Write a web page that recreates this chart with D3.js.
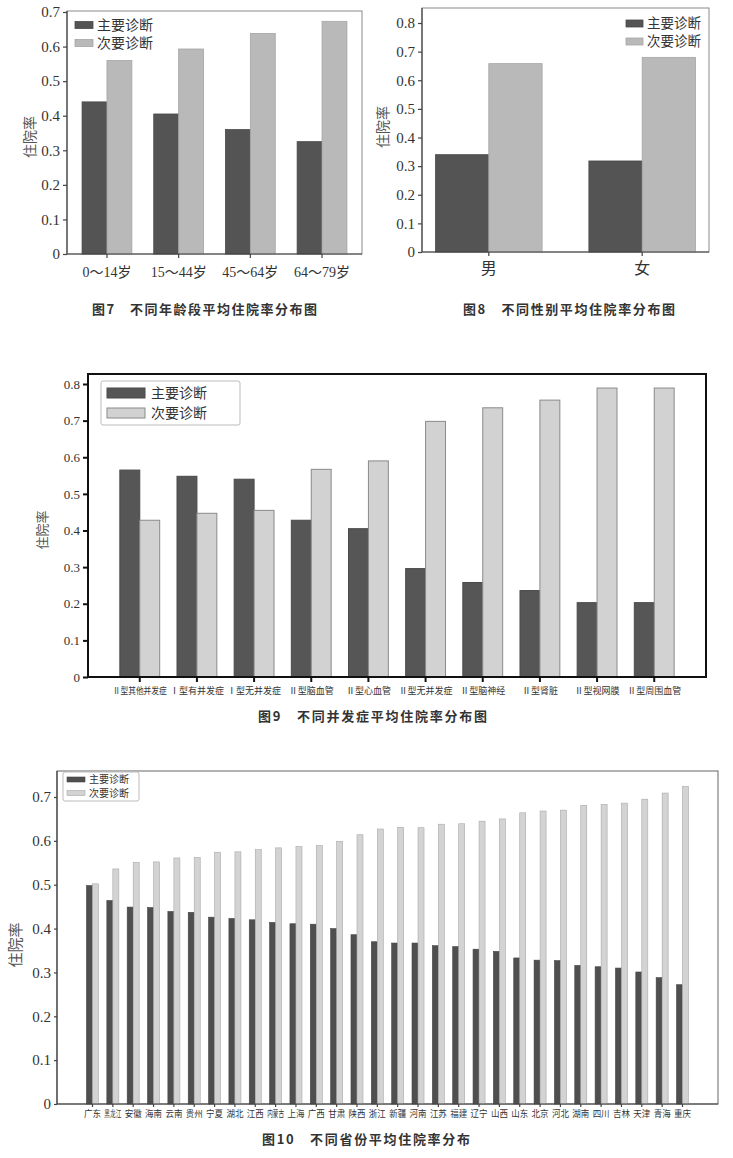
<!DOCTYPE html>
<html>
<head>
<meta charset="utf-8">
<script src="https://cdn.jsdelivr.net/npm/d3@7"></script>
<style>
body { margin: 0; background: #fff; }
svg { display: block; }
</style>
</head>
<body>
<div id="chart"></div>
<script>
var seriesNames = ["主要诊断", "次要诊断"];

// fig 7 - age groups
var ageGroups = ["0～14岁", "15～44岁", "45～64岁", "64～79岁"];
var ageMain = [0.44, 0.405, 0.36, 0.325];
var ageSecond = [0.56, 0.593, 0.638, 0.673];
var ageTicks = [0, 0.1, 0.2, 0.3, 0.4, 0.5, 0.6, 0.7];

// fig 8 - sex
var sexGroups = ["男", "女"];
var sexMain = [0.34, 0.318];
var sexSecond = [0.658, 0.68];
var sexTicks = [0, 0.1, 0.2, 0.3, 0.4, 0.5, 0.6, 0.7, 0.8];

// fig 9 - complications
var compGroups = ["Ⅱ型其他并发症", "Ⅰ型有并发症", "Ⅰ型无并发症", "Ⅱ型脑血管", "Ⅱ型心血管",
                  "Ⅱ型无并发症", "Ⅱ型脑神经", "Ⅱ型肾脏", "Ⅱ型视网膜", "Ⅱ型周围血管"];
var compMain = [0.565, 0.548, 0.54, 0.428, 0.405, 0.296, 0.258, 0.236, 0.203, 0.203];
var compSecond = [0.428, 0.447, 0.455, 0.567, 0.59, 0.698, 0.735, 0.756, 0.789, 0.789];
var compTicks = [0, 0.1, 0.2, 0.3, 0.4, 0.5, 0.6, 0.7, 0.8];

// fig 10 - provinces
var provGroups = ["广东", "黑龙江", "安徽", "海南", "云南", "贵州", "宁夏", "湖北", "江西", "内蒙古",
                  "上海", "广西", "甘肃", "陕西", "浙江", "新疆", "河南", "江苏", "福建", "辽宁",
                  "山西", "山东", "北京", "河北", "湖南", "四川", "吉林", "天津", "青海", "重庆"];
var provMain = [0.498, 0.464, 0.449, 0.448, 0.439, 0.437, 0.426, 0.423, 0.42, 0.414,
                0.411, 0.41, 0.4, 0.386, 0.37, 0.367, 0.367, 0.361, 0.359, 0.353,
                0.348, 0.333, 0.328, 0.327, 0.316, 0.313, 0.31, 0.301, 0.288, 0.272];
var provSecond = [0.502, 0.536, 0.551, 0.552, 0.561, 0.562, 0.574, 0.575, 0.58, 0.584,
                  0.587, 0.589, 0.599, 0.614, 0.627, 0.631, 0.63, 0.638, 0.639, 0.645,
                  0.65, 0.664, 0.668, 0.67, 0.681, 0.683, 0.686, 0.695, 0.709, 0.724];
var provTicks = [0, 0.1, 0.2, 0.3, 0.4, 0.5, 0.6, 0.7];

var serif = "'Liberation Serif', 'Noto Sans CJK SC', serif";
var cjk = "'Noto Sans CJK SC', sans-serif";
var fmt = function(d) { return d === 0 ? "0" : d3.format(".1f")(d); };

var svg = d3.select("#chart")
    .append("svg")
    .attr("width", 733)
    .attr("height", 1158);

function drawChart(c) {
    var g = svg.append("g");

    var x0 = d3.scaleBand()
        .domain(c.cats)
        .range([c.left, c.right])
        .paddingInner(c.padIn)
        .paddingOuter(c.padOut);
    var x1 = d3.scaleBand()
        .domain(seriesNames)
        .range([0, x0.bandwidth()]);
    var y = d3.scaleLinear()
        .domain([0, c.ticks[c.ticks.length - 1]])
        .range([c.bottom, c.tickTop]);

    var rows = c.cats.map(function(d, i) {
        return { cat: d, vals: [c.main[i], c.second[i]] };
    });

    // frame
    g.append("rect")
        .attr("x", c.left)
        .attr("y", c.top)
        .attr("width", c.right - c.left)
        .attr("height", c.bottom - c.top)
        .attr("fill", "none")
        .attr("stroke", c.frame)
        .attr("stroke-width", c.frameW);

    // bars
    g.selectAll("g.grp")
        .data(rows)
        .enter()
        .append("g")
        .attr("transform", function(d) { return "translate(" + x0(d.cat) + ",0)"; })
        .selectAll("rect")
        .data(function(d) { return d.vals.map(function(v, k) { return { s: seriesNames[k], v: v, k: k }; }); })
        .enter()
        .append("rect")
        .attr("x", function(d) { return x1(d.s); })
        .attr("y", function(d) { return y(d.v); })
        .attr("width", x1.bandwidth())
        .attr("height", function(d) { return c.bottom - y(d.v); })
        .attr("fill", function(d) { return c.fill[d.k]; })
        .attr("stroke", function(d) { return c.stroke[d.k]; })
        .attr("stroke-width", c.barStroke);

    // Y axis
    var ya = g.append("g")
        .attr("transform", "translate(" + c.left + ",0)")
        .call(d3.axisLeft(y).tickValues(c.ticks).tickSize(c.tick).tickSizeOuter(0).tickFormat(fmt));
    ya.select(".domain").remove();
    ya.selectAll("line").attr("stroke", c.axisCol).attr("stroke-width", c.axisW);
    ya.selectAll("text")
        .attr("font-family", serif)
        .attr("font-size", c.yFont)
        .attr("fill", "#333");

    // X axis
    var xa = g.append("g")
        .attr("transform", "translate(0," + c.bottom + ")")
        .call(d3.axisBottom(x0).tickSize(c.tick).tickSizeOuter(0));
    xa.select(".domain").remove();
    xa.selectAll("line").attr("stroke", c.axisCol).attr("stroke-width", c.axisW);
    xa.selectAll("text")
        .attr("y", c.xLabY)
        .attr("dy", "0")
        .attr("font-family", c.xFamily)
        .attr("font-size", c.xFont)
        .attr("fill", "#333");
    // squeeze long labels horizontally so they stay inside one step
    if (c.xMaxW) {
        xa.selectAll("text").each(function() {
            var w = this.getComputedTextLength();
            if (w > c.xMaxW) {
                d3.select(this).attr("transform", "scale(" + (c.xMaxW / w) + ",1)");
            }
        });
    }

    // axis lines on left and bottom
    g.append("line")
        .attr("x1", c.left).attr("x2", c.left)
        .attr("y1", c.top).attr("y2", c.bottom)
        .attr("stroke", c.axisCol).attr("stroke-width", c.axisW);
    g.append("line")
        .attr("x1", c.left).attr("x2", c.right)
        .attr("y1", c.bottom).attr("y2", c.bottom)
        .attr("stroke", c.axisCol).attr("stroke-width", c.axisW);

    // y title
    g.append("text")
        .attr("transform", "translate(" + c.yTitle[0] + "," + c.yTitle[1] + ")rotate(-90)")
        .attr("text-anchor", "middle")
        .attr("dy", "0.35em")
        .attr("font-family", cjk)
        .attr("font-size", c.yTitleFont)
        .attr("fill", "#555")
        .text("住院率");

    // legend
    var L = c.legend;
    if (L.box) {
        g.append("rect")
            .attr("x", L.box[0]).attr("y", L.box[1])
            .attr("width", L.box[2]).attr("height", L.box[3])
            .attr("rx", 2)
            .attr("fill", "#fff")
            .attr("stroke", "#bbb");
    }
    seriesNames.forEach(function(s, k) {
        var cy = L.y + k * L.gap;
        g.append("rect")
            .attr("x", L.x).attr("y", cy - L.sh / 2)
            .attr("width", L.sw).attr("height", L.sh)
            .attr("fill", c.fill[k])
            .attr("stroke", c.stroke[k])
            .attr("stroke-width", c.barStroke);
        g.append("text")
            .attr("x", L.x + L.sw + L.pad)
            .attr("y", cy)
            .attr("dy", "0.36em")
            .attr("font-family", cjk)
            .attr("font-size", L.font)
            .attr("fill", "#333")
            .text(s);
    });

    // caption
    g.append("text")
        .attr("x", c.caption[1])
        .attr("y", c.caption[2])
        .attr("textLength", c.caption[3])
        .attr("lengthAdjust", "spacing")
        .attr("font-family", cjk)
        .attr("font-weight", "bold")
        .attr("font-size", 13)
        .attr("fill", "#333")
        .text(c.caption[0]);
}

// 图7
drawChart({
    cats: ageGroups, main: ageMain, second: ageSecond, ticks: ageTicks,
    left: 67, right: 362, top: 11, bottom: 254, tickTop: 12,
    padIn: 0.305, padOut: 0.21,
    fill: ["#545454", "#b9b9b9"], stroke: ["#4a4a4a", "#a5a5a5"], barStroke: 0.8,
    frame: "#8a8a8a", frameW: 1, axisCol: "#444", axisW: 1.2, tick: 4,
    yFont: 15, xFont: 14, xLabY: 23, xFamily: serif,
    yTitle: [30, 137], yTitleFont: 14,
    legend: { x: 75, y: 25, gap: 18, sw: 18, sh: 7, pad: 4, font: 14 },
    caption: ["图7　不同年龄段平均住院率分布图", 92, 314, 225]
});

// 图8
drawChart({
    cats: sexGroups, main: sexMain, second: sexSecond, ticks: sexTicks,
    left: 422, right: 709, top: 8, bottom: 252, tickTop: 23,
    padIn: 0.305, padOut: 0.088,
    fill: ["#545454", "#b9b9b9"], stroke: ["#4a4a4a", "#a5a5a5"], barStroke: 0.8,
    frame: "#8a8a8a", frameW: 1, axisCol: "#444", axisW: 1.2, tick: 4,
    yFont: 15, xFont: 16, xLabY: 22, xFamily: cjk,
    yTitle: [383, 127], yTitleFont: 14,
    legend: { x: 626, y: 23.5, gap: 18, sw: 17, sh: 7, pad: 4, font: 13.5 },
    caption: ["图8　不同性别平均住院率分布图", 463, 314, 212]
});

// 图9
drawChart({
    cats: compGroups, main: compMain, second: compSecond, ticks: compTicks,
    left: 88, right: 706, top: 374, bottom: 677, tickTop: 384,
    padIn: 0.303, padOut: 0.557,
    fill: ["#565656", "#d2d2d2"], stroke: ["#4a4a4a", "#8a8a8a"], barStroke: 1,
    frame: "#111", frameW: 2, axisCol: "#111", axisW: 2, tick: 5,
    yFont: 13, xFont: 9, xLabY: 17, xFamily: cjk, xMaxW: 54,
    yTitle: [42, 530], yTitleFont: 13,
    legend: { x: 107, y: 393, gap: 20, sw: 38, sh: 10, pad: 6, font: 14, box: [101, 381, 139, 44] },
    caption: ["图9　不同并发症平均住院率分布图", 258, 721, 229]
});

// 图10
drawChart({
    cats: provGroups, main: provMain, second: provSecond, ticks: provTicks,
    left: 57, right: 718, top: 771, bottom: 1104, tickTop: 797,
    padIn: 0.41, padOut: 1.45,
    fill: ["#4f4f4f", "#d3d3d3"], stroke: ["#444", "#a8a8a8"], barStroke: 0.6,
    frame: "#666", frameW: 1, axisCol: "#444", axisW: 1.2, tick: 3,
    yFont: 15, xFont: 9, xLabY: 13, xFamily: cjk, xMaxW: 17,
    yTitle: [16, 945], yTitleFont: 15,
    legend: { x: 67, y: 779.5, gap: 13.5, sw: 18, sh: 5, pad: 4, font: 10, box: [63, 772, 76, 29] },
    caption: ["图10　不同省份平均住院率分布", 262, 1144, 208]
});
</script>
</body>
</html>
